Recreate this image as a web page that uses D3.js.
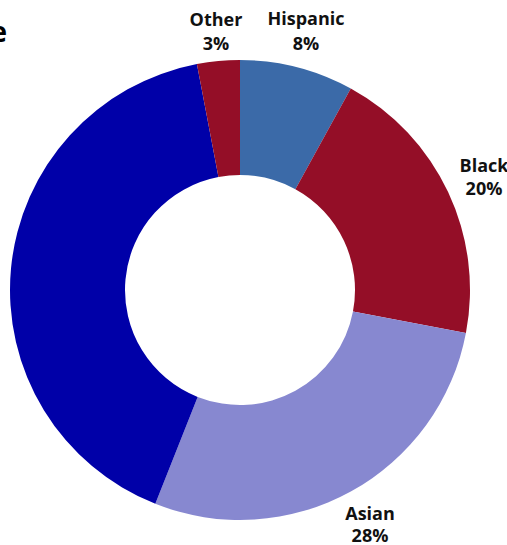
<!DOCTYPE html>
<html>
<head>
<meta charset="utf-8">
<script src="https://cdn.jsdelivr.net/npm/d3@7/dist/d3.min.js"></script>
<style>
  html, body { margin: 0; padding: 0; background: #fff; overflow: hidden; }
  svg { display: block; }
  text { font-family: "Open Sans", "Noto Sans", sans-serif; font-weight: 700; fill: #111; }
</style>
</head>
<body>
<svg id="chart" width="507" height="545"></svg>
<script>
// Share of each group, clockwise from 12 o'clock
const categories = ["Hispanic", "Black", "Asian", "White", "Other"];
const values = [8, 20, 28, 41, 3];
const colors = ["#3b6aa8", "#940e27", "#8788d0", "#0000a8", "#940e27"];

// Label placement: centre x, name baseline, percentage baseline
const labelPos = {
  Hispanic: [306, 25, 50],
  Black:    [484, 172, 195],
  Asian:    [370, 520, 542],
  White:    [-27, 245, 269],
  Other:    [216, 26, 50]
};

const svg = d3.select("#chart");
const cx = 240, cy = 290, outerR = 230, innerR = 115;

const pie = d3.pie().sort(null).value(d => d.value);
const arc = d3.arc().innerRadius(innerR).outerRadius(outerR);
const data = categories.map((c, i) => ({ name: c, value: values[i], color: colors[i] }));

const g = svg.append("g").attr("transform", `translate(${cx},${cy})`);
g.selectAll("path")
  .data(pie(data))
  .join("path")
  .attr("d", arc)
  .attr("fill", d => d.data.color);

// Title (runs off the left edge)
svg.append("text")
  .attr("x", 7).attr("y", 42)
  .attr("text-anchor", "end")
  .style("font-size", "28px")
  .style("fill", "#000")
  .text("Race");

// Category labels
const labels = svg.selectAll("g.label")
  .data(data)
  .join("g")
  .attr("class", "label")
  .attr("transform", d => `translate(${labelPos[d.name][0]},0)`);

labels.append("text")
  .attr("text-anchor", "middle")
  .attr("y", d => labelPos[d.name][1])
  .style("font-size", "18px")
  .text(d => d.name);

labels.append("text")
  .attr("text-anchor", "middle")
  .attr("y", d => labelPos[d.name][2])
  .style("font-size", "18px")
  .text(d => d.value + "%");
</script>
</body>
</html>
